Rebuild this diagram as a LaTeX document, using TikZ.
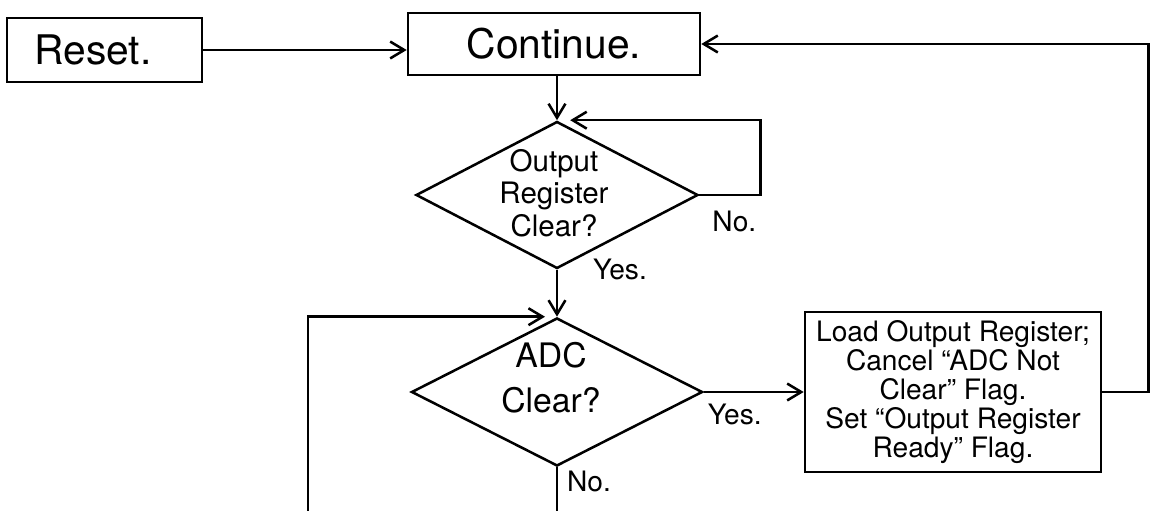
\documentclass[tikz,border=0pt]{standalone}
\usepackage{fontspec}
\setmainfont{TeX Gyre Heros}
\usetikzlibrary{arrows.meta, shapes.geometric}

\begin{document}
\begin{tikzpicture}[
      x=0.025cm, y=-0.025cm,
      line width=1.8pt,
      >={Straight Barb[length=10pt, width=12pt]},
      box/.style={draw, inner sep=2pt, align=center},
      dec/.style={draw, diamond, inner sep=0pt},
      dectext/.style={align=center, font=\fontsize{21}{23}\selectfont},
      lbl/.style={font=\fontsize{20}{22}\selectfont, inner sep=2pt},
      flow/.style={->}
    ]
    \useasboundingbox (0,0) rectangle (1152,511);
    \clip (0,0) rectangle (1152,511);

    \node[box, minimum width=4.875cm, minimum height=1.6cm, text width=3.5cm, inner xsep=0.65cm, align=left,
          font=\fontsize{29}{31}\selectfont] (reset) at (104.5,50) {Reset.};
    \node[box, minimum width=7.3cm, minimum height=1.55cm, font=\fontsize{29}{31}\selectfont] (cont) at (554,44) {Continue.};

    % the two tests
    \node[dec, minimum width=7.05cm, minimum height=3.675cm] (outclr) at (557,195) {};
    \node[dectext] (outtxt) at (554,193) {Output\\Register\\Clear?};
    \node[dec, minimum width=7.275cm, minimum height=3.7cm] (adcclr) at (557,392) {};
    \node[dectext, font=\fontsize{24}{32}\selectfont] (adctxt) at (551,378) {ADC\\Clear?};

    \node[box, minimum width=7.4cm, minimum height=4cm, font=\fontsize{20}{20.6}\selectfont] (load) at (953,392)
      {Load Output Register;\\Cancel ``ADC Not\\Clear'' Flag.\\Set ``Output Register\\Ready'' Flag.};

    \draw[flow] (reset.east) -- (reset.east -| cont.west);
    \draw[flow] (outclr.north |- cont.south) -- (outclr.north);
    \draw[flow] (outclr.east) -- ++(61,0) node[lbl, anchor=north east, yshift=-0.3cm] (no1) {No.}
      |- ([xshift=0.33cm]outclr.north);
    \draw[flow] (outclr.south) node[lbl, anchor=west, xshift=0.8cm] (yes1) {Yes.} -- (adcclr.north);
    \draw[flow] (adcclr.east) node[lbl, anchor=north west, yshift=-0.2cm] (yes2) {Yes.} -- (load.west);
    \draw[flow] (adcclr.south) node[lbl, anchor=north west, xshift=0.15cm] (no2) {No.}
      -- ++(0,70) -- ++(-249,0) |- ([xshift=-0.3cm]adcclr.north);
    \draw[flow] (load.east) -- ++(46,0) |- (cont.east);
  \end{tikzpicture}
\end{document}
